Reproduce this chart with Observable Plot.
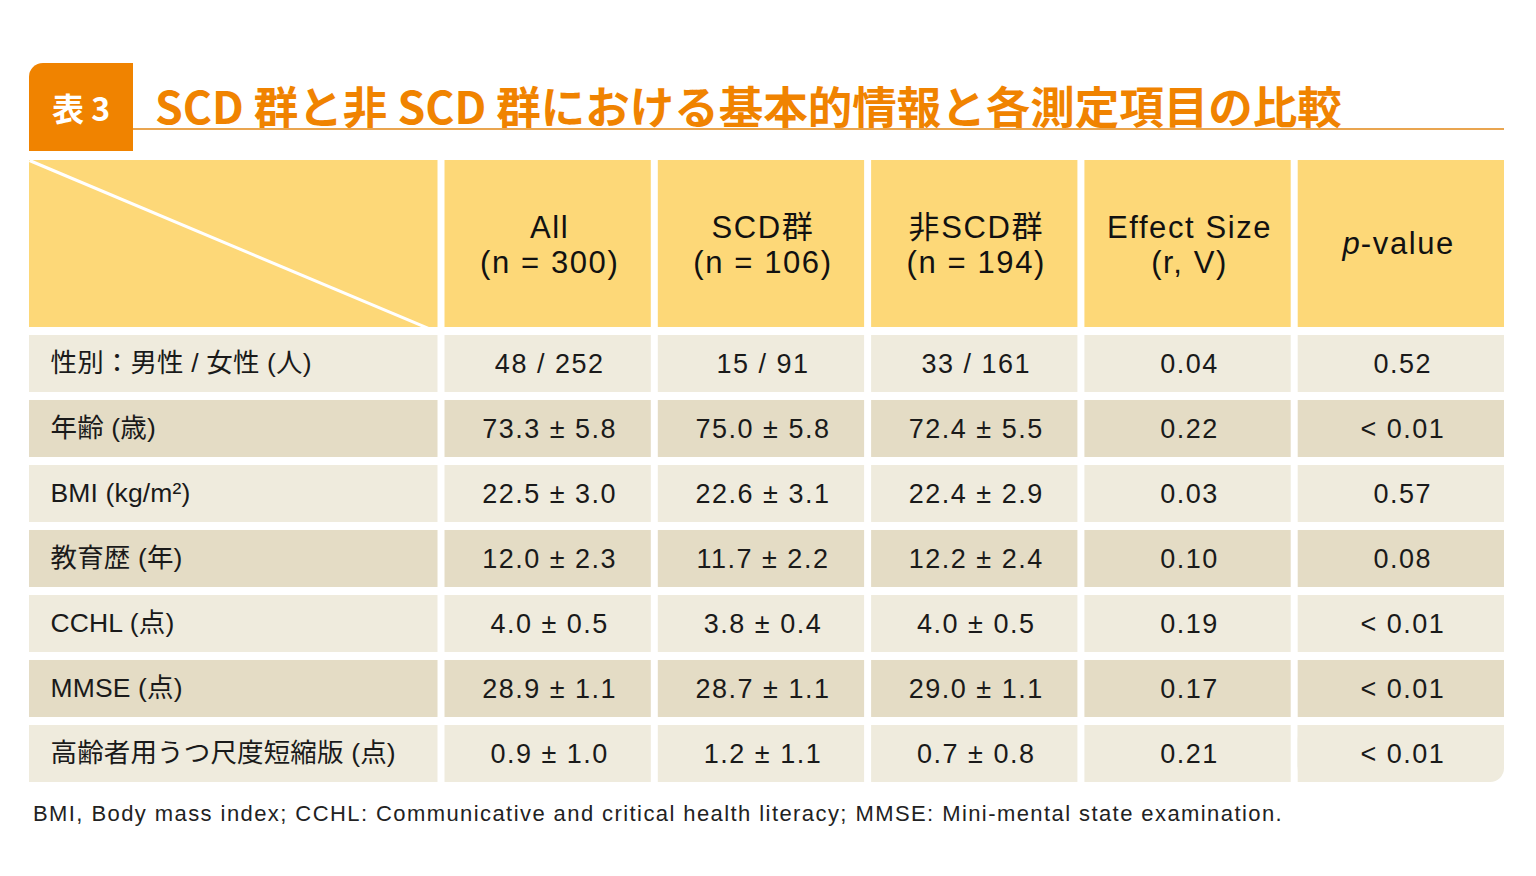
<!DOCTYPE html>
<html><head><meta charset="utf-8">
<script src="https://cdn.jsdelivr.net/npm/d3@7"></script>
<script src="https://cdn.jsdelivr.net/npm/@observablehq/plot@0.6"></script>
<style>
html,body{margin:0;padding:0;background:#fff;}
body{width:1536px;height:876px;overflow:hidden;font-family:"Liberation Sans","Noto Sans CJK JP",sans-serif;}
#title{position:relative;height:155px;}
#badge{position:absolute;left:29px;top:63px;width:104px;height:88px;background:#F08300;border-top-left-radius:14px;}
#badge span{position:absolute;left:0;right:0;top:24px;text-align:center;color:#fff;font-family:"Noto Sans CJK JP",sans-serif;font-weight:700;font-size:32px;line-height:40px;white-space:pre;}
#ttext{position:absolute;left:155px;top:83px;font-family:"Noto Sans CJK JP",sans-serif;font-size:44.5px;line-height:44px;font-weight:700;color:#F08300;white-space:nowrap;}
#rule{position:absolute;left:133px;top:128px;width:1371px;height:2px;background:#E9A550;}
#chart{height:645px;}
#note{position:absolute;left:33px;top:800px;font-size:22px;line-height:28px;color:#222;white-space:nowrap;letter-spacing:1.42px;}
</style></head>
<body>
<div id="title"><div id="badge"><span>表 3</span></div><div id="ttext">SCD 群と非 SCD 群における基本的情報と各測定項目の比較</div><div id="rule"></div></div>
<div id="chart"></div>
<div id="note">BMI, Body mass index; CCHL: Communicative and critical health literacy; MMSE: Mini-mental state examination.</div>
<script>
// ---- data ----
const colLabels = ["All\n(n = 300)", "SCD群\n(n = 106)", "非SCD群\n(n = 194)", "Effect Size\n(r, V)", "p-value"];
const rowLabels = ["性別：男性 / 女性 (人)", "年齢 (歳)", "BMI (kg/m²)", "教育歴 (年)", "CCHL (点)", "MMSE (点)", "高齢者用うつ尺度短縮版 (点)"];
const allValues = ["48 / 252", "73.3 ± 5.8", "22.5 ± 3.0", "12.0 ± 2.3", "4.0 ± 0.5", "28.9 ± 1.1", "0.9 ± 1.0"];
const scdValues = ["15 / 91", "75.0 ± 5.8", "22.6 ± 3.1", "11.7 ± 2.2", "3.8 ± 0.4", "28.7 ± 1.1", "1.2 ± 1.1"];
const nonScdValues = ["33 / 161", "72.4 ± 5.5", "22.4 ± 2.9", "12.2 ± 2.4", "4.0 ± 0.5", "29.0 ± 1.1", "0.7 ± 0.8"];
const effectSizes = ["0.04", "0.22", "0.03", "0.10", "0.19", "0.17", "0.21"];
const pValues = ["0.52", "< 0.01", "0.57", "0.08", "< 0.01", "< 0.01", "< 0.01"];

// ---- layout (grid units) ----
const colWidths = [1.948, 1, 1, 1, 1, 1];
const headerHeight = 2.692;
const colStart = colWidths.map((w, i) => d3.sum(colWidths.slice(0, i)));
const totalW = d3.sum(colWidths);
const totalH = headerHeight + rowLabels.length;

const columns = [rowLabels, allValues, scdValues, nonScdValues, effectSizes, pValues];
const headerCells = colWidths.map((w, c) => ({
  x1: colStart[c], x2: colStart[c] + w, y1: 0, y2: headerHeight,
  text: c === 0 ? "" : colLabels[c - 1], kind: "header", col: c
}));
const bodyCells = [];
rowLabels.forEach((_, r) => {
  columns.forEach((vals, c) => {
    bodyCells.push({
      x1: colStart[c], x2: colStart[c] + colWidths[c],
      y1: headerHeight + r, y2: headerHeight + r + 1,
      text: vals[r], kind: r % 2 === 0 ? "odd" : "even", col: c, row: r
    });
  });
});
const lastCell = bodyCells[bodyCells.length - 1];
const squareCells = bodyCells.slice(0, -1);

const fontStack = "Liberation Sans, Noto Sans CJK JP, sans-serif";
const chart = Plot.plot({
  width: 1536, height: 645,
  marginTop: 5, marginBottom: 7, marginLeft: 0, marginRight: 0,
  x: {domain: [0, totalW], range: [29, 29 + totalW * 213.3], axis: null},
  y: {domain: [0, totalH], range: [5, 5 + totalH * 65], axis: null},
  color: {domain: ["header", "odd", "even"], range: ["#FDD878", "#EFEBDD", "#E4DCC5"]},
  style: {fontFamily: fontStack, background: "transparent"},
  marks: [
    Plot.rect(headerCells, {x1: "x1", x2: "x2", y1: "y1", y2: "y2", fill: "kind", insetRight: 7, insetBottom: 8}),
    Plot.link([headerCells[0]], {x1: "x1", y1: "y1", x2: "x2", y2: "y2", stroke: "#fff", strokeWidth: 3, insetTop: 3, insetRight: 7, insetBottom: 8}),
    Plot.rect(squareCells, {x1: "x1", x2: "x2", y1: "y1", y2: "y2", fill: "kind", insetRight: 7, insetBottom: 8}),
    // last cell: only bottom-right corner rounded
    Plot.rect([lastCell], {x1: "x1", x2: "x2", y1: "y1", y2: "y2", fill: "kind", insetRight: 7, insetBottom: 8, rx: 14}),
    Plot.rect([lastCell], {x1: "x1", x2: "x2", y1: "y1", y2: "y2", fill: "kind", insetRight: 22, insetBottom: 8}),
    Plot.rect([lastCell], {x1: "x1", x2: "x2", y1: "y1", y2: "y2", fill: "kind", insetRight: 7, insetBottom: 23}),
    // header labels (text group 0)
    Plot.text(headerCells.filter(d => d.col > 0 && d.col < 5), {
      x: d => (d.x1 + d.x2) / 2, y: d => (d.y1 + d.y2) / 2, text: "text",
      dx: -2, dy: -4, fontSize: 31, lineHeight: 1.13, fill: "#111", lineAnchor: "middle"
    }),
    // p-value (groups 1, 2)
    Plot.text(headerCells.filter(d => d.col === 5), {
      x: d => (d.x1 + d.x2) / 2, y: d => (d.y1 + d.y2) / 2, text: () => "p",
      dx: -45, dy: -4, fontSize: 31, fontStyle: "italic", textAnchor: "end", fill: "#111"
    }),
    Plot.text(headerCells.filter(d => d.col === 5), {
      x: d => (d.x1 + d.x2) / 2, y: d => (d.y1 + d.y2) / 2, text: () => "-value",
      dx: -44, dy: -4, fontSize: 31, textAnchor: "start", fill: "#111"
    }),
    // row labels (group 3)
    Plot.text(bodyCells.filter(d => d.col === 0), {
      x: "x1", y: d => (d.y1 + d.y2) / 2, text: "text",
      dx: 21, dy: -4, fontSize: 26.5, textAnchor: "start", fill: "#1a1a1a"
    }),
    // values (group 4)
    Plot.text(bodyCells.filter(d => d.col > 0), {
      x: d => (d.x1 + d.x2) / 2, y: d => (d.y1 + d.y2) / 2, text: "text",
      dx: -2, dy: -4, fontSize: 27, fill: "#1a1a1a"
    })
  ]
});
const spacing = ["1.6px", "0px", "1.6px", "0.15px", "1.5px"];
d3.select(chart).selectAll("g[aria-label='text']").each(function(_, i) {
  d3.select(this).style("letter-spacing", spacing[i] || null);
});
document.getElementById("chart").appendChild(chart);
</script>
</body></html>
